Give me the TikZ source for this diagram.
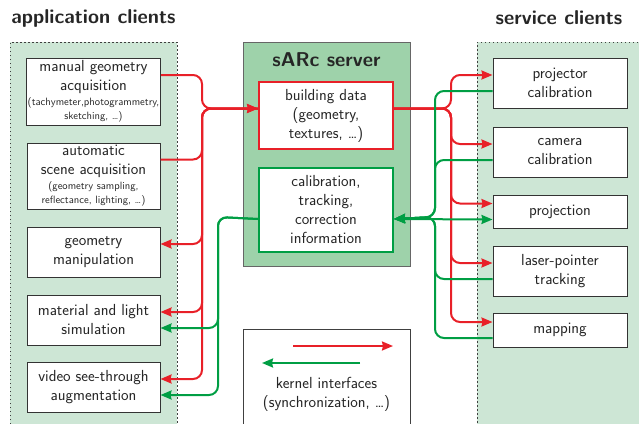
\documentclass[tikz,border=0pt]{standalone}
\usepackage{tikz}
\usetikzlibrary{arrows.meta,positioning}
\renewcommand{\familydefault}{\sfdefault}
\definecolor{ifred}{RGB}{232,32,40}
\definecolor{ifgreen}{RGB}{0,158,68}
\definecolor{panelgreen}{RGB}{205,230,213}
\definecolor{servergreen}{RGB}{158,210,170}
\newcommand{\bodyfont}{\fontsize{16}{19}\selectfont}
\newcommand{\notefont}{\fontsize{10.6}{14}\selectfont}
\newcommand{\headfont}{\fontsize{20}{23}\selectfont\bfseries}
\tikzset{
    %Define standard arrow tip
    >={Stealth[length=11pt,width=9pt,inset=1pt]},
    %Define style for boxes
    client/.style={
           rectangle,
           draw=black!80, line width=1pt,
           fill=white,
           minimum width=133pt,
           minimum height=50pt,
           font=\bodyfont,
           text=black!85,
           align=center,
           inner sep=1pt},
    store/.style={
           client,
           line width=2pt,
           minimum width=134pt},
    panel/.style={
           draw=black!75, line width=0.8pt,
           dash pattern=on 1.5pt off 2.5pt},
    head/.style={
           font=\headfont,
           text=black!85},
    % Define arrow style
    pil/.style={
           line width=2pt,
           rounded corners=9pt}
}

\begin{document}
\begin{tikzpicture}[x=1pt,y=-1pt]
\useasboundingbox (0,0) rectangle (639,423);
 %panels
\fill[panelgreen] (10,42) rectangle (177,440);
\fill[panelgreen] (477,42) rectangle (650,440);
\draw[panel] (10,440) -- (10,42) -- (177,42) -- (177,440);
\draw[panel] (650,42) -- (477,42) -- (477,440);
\node[head] (apptitle) at (93.5,18) {application clients};
\node[head] (srvtitle) at (559,18) {service clients};
 %server
\node[rectangle, fill=servergreen, draw=black!60, line width=1pt,
      minimum width=167pt, minimum height=224pt] (srv) at (326.5,154) {};
\node[head] (kern) at (326.5,60) {sARc server};
\node[store, draw=ifred, minimum height=67pt] (bd) at (326,115.5)
     {building data\\(geometry,\\textures, \dots)};
\node[store, draw=ifgreen, minimum height=84pt, below=17pt of bd] (cal)
     {calibration,\\tracking,\\correction\\information};
 %application clients
\node[client, minimum height=67pt] (mga) at (93.5,91.5)
     {manual geometry\\acquisition\\[-4pt]\notefont(tachymeter,photogrammetry,\\[-5pt]\notefont sketching, \dots)};
\node[client, minimum height=66pt, below=17pt of mga] (asa)
     {automatic\\scene acquisition\\[-4pt]\notefont(geometry sampling,\\[-5pt]\notefont reflectance, lighting, \dots)};
\node[client, below=17pt of asa] (gm) {geometry\\manipulation};
\node[client, below=17pt of gm] (mls) {material and light\\simulation};
\node[client, below=16pt of mls] (vst) {video see-through\\augmentation};
 %service clients
\node[client, minimum width=134pt] (pc) at (560,83) {projector\\calibration};
\node[client, minimum width=134pt, below=18pt of pc] (cc) {camera\\calibration};
\node[client, minimum width=134pt, minimum height=33pt, below=17pt of cc] (pr) {projection};
\node[client, minimum width=134pt, below=17pt of pr] (lp) {laser-pointer\\tracking};
\node[client, minimum width=134pt, minimum height=34pt, below=16pt of lp] (map) {mapping};
 %legend
\node[rectangle, draw=black!75, line width=1pt, fill=white,
      minimum width=167pt, minimum height=111pt] (lg) at (326.5,384.5) {};
\node[font=\bodyfont, text=black!85, align=center] (lgtext) at (326.5,394)
     {kernel interfaces\\(synchronization, \dots)};
\coordinate (lra) at (293,346);
\coordinate (lrb) at (393,346);
\coordinate (lga) at (360,363);
\coordinate (lgb) at (262,363);
 %bus corners
\coordinate (rl) at (202,108.5);
\coordinate (gl) at (218,217);
\coordinate (rr) at (451,108.5);
\coordinate (gr) at (435,217);
 %building data
\draw[pil, ifred, ->] ([yshift=16.5pt]mga.east) -| (rl) -- ([yshift=7pt]bd.west);
\draw[pil, ifred, ->] ([yshift=16.5pt]asa.east) -| (rl) -- ([yshift=7pt]bd.west);
\foreach \c in {gm, mls, vst}
  \draw[pil, ifred, ->] ([yshift=7pt]bd.west) -- (rl) |- ([yshift=8pt]\c.east);
\foreach \c in {pc, cc, pr, lp, map}
  \draw[pil, ifred, ->] ([yshift=7pt]bd.east) -- (rr) |- ([yshift=8pt]\c.west);
 %calibration
\foreach \c in {mls, vst}
  \draw[pil, ifgreen, ->] ([yshift=-9pt]cal.west) -- (gl) |- ([yshift=-8pt]\c.east);
\foreach \c in {pc, cc, lp, map}
  \draw[pil, ifgreen, ->] ([yshift=-8pt]\c.west) -| (gr) -- ([yshift=-9pt]cal.east);
\draw[pil, ifgreen, <->] ([yshift=-9pt]cal.east) -- ([yshift=-8pt]pr.west);
 %legend arrows
\draw[pil, ifred, ->] (lra) -- (lrb);
\draw[pil, ifgreen, ->] (lga) -- (lgb);
\end{tikzpicture}
\end{document}
